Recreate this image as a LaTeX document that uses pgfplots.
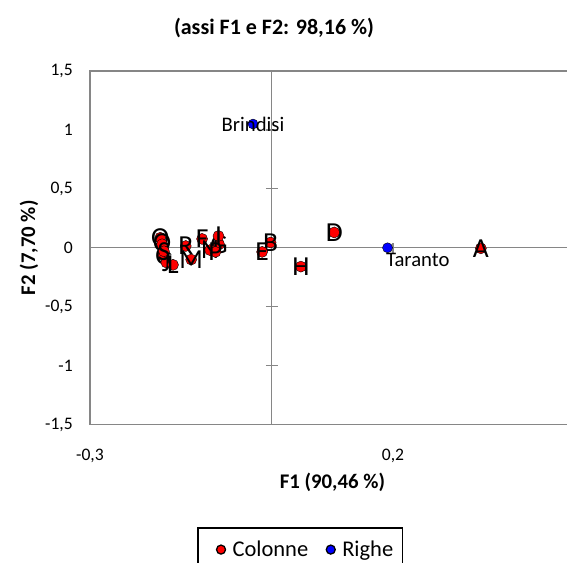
\documentclass[border=0pt]{standalone}
\usepackage{pgfplots}
\pgfplotsset{compat=1.18}
\usepackage{fontspec}
\setmainfont{Carlito}
\definecolor{axgray}{RGB}{134,134,134}
\definecolor{ptred}{RGB}{255,0,0}
\definecolor{ptblue}{RGB}{0,0,255}
\begin{document}
\begin{tikzpicture}
\useasboundingbox (0bp,0bp) rectangle (567bp,-563bp);
\begin{scope}
\clip (0bp,0bp) rectangle (567bp,-563bp);
\node[font=\bfseries\fontsize{22bp}{26bp}\selectfont] at (274bp,-28bp) {(assi F1 e F2: 98,16 \%)};
\begin{axis}[
  at={(90bp,-424.5bp)}, anchor=south west,
  scale only axis, width=484.8bp, height=353.5bp,
  xmin=-0.3, xmax=0.5, ymin=-1.5, ymax=1.5,
  axis line style={axgray, line width=1.3bp},
  xtick={-0.3,0.2}, ytick={-1.5,-1,-0.5,0,0.5,1,1.5},
  major tick length=0pt,
  tick label style={font=\fontsize{17.6bp}{21bp}\selectfont, inner sep=0pt},
  /pgf/number format/use comma, /pgf/number format/assume math mode=true,
  xticklabel shift=24bp, yticklabel shift=17bp,
  xlabel={F1 (90,46 \%)}, ylabel={F2 (7,70 \%)},
  label style={font=\bfseries\fontsize{20.8bp}{25bp}\selectfont},
  xlabel style={at={(axis description cs:0.5,-0.1646)}, anchor=center},
  ylabel style={at={(axis description cs:-0.1258,0.5)}, anchor=center},
  legend columns=2,
  legend style={at={(axis description cs:0.2215,-0.2910)}, anchor=north west,
    draw=black, line width=1.3bp, font=\fontsize{22.5bp}{27bp}\selectfont,
    inner xsep=9.5bp, inner ysep=13bp,
    nodes={inner sep=0pt},
    /tikz/every odd column/.append style={column sep=7bp},
    /tikz/every even column/.append style={column sep=9bp}},
  legend image code/.code={
    \path[draw=none] (-9bp,0bp) -- (9bp,0bp);
    \draw[#1, mark size=4.5bp] plot coordinates {(4.5bp,0bp)};
  },
  nodes near coords, point meta=explicit symbolic,
]
\draw[axgray, line width=1.3bp] (axis cs:0,-1.5) -- (axis cs:0,1.5);
\draw[axgray, line width=1.3bp] (axis cs:-0.3,0) -- (axis cs:0.5,0);
\pgfplotsinvokeforeach{-1,-0.5,0.5,1}{
  \draw[axgray, line width=1.3bp] ([xshift=-6bp]axis cs:0,#1) -- ([xshift=6bp]axis cs:0,#1);
}
\draw[axgray, line width=1.3bp] ([yshift=-5bp]axis cs:0.2,0) -- ([yshift=5bp]axis cs:0.2,0);

\addplot[only marks, mark=*, mark size=5.5bp, mark options={draw=none, fill=ptred},
  every node near coord/.style={anchor=center, black, font=\fontsize{27.5bp}{32bp}\selectfont}]
coordinates {
  (0.345,-0.005) [A]
  (-0.002,0.045) [B]
  (-0.180,-0.065) [C]
  (0.103,0.130) [D]
  (-0.016,-0.035) [E]
  (-0.115,0.075) [F]
  (-0.087,0.030) [G]
  (0.048,-0.160) [H]
  (-0.088,0.100) [I]
  (-0.174,-0.125) [J]
  (-0.163,-0.145) [L]
  (-0.133,-0.100) [M]
  (-0.102,-0.020) [N]
  (-0.184,0.085) [O]
  (-0.093,-0.035) [P]
  (-0.181,0.030) [Q]
  (-0.142,0.015) [R]
  (-0.178,-0.030) [S]
};
\addlegendentry{Colonne}
\addplot[only marks, mark=*, mark size=5bp, mark options={draw=none, fill=ptblue},
  every node near coord/.style={anchor=center, black, font=\fontsize{20.7bp}{24bp}\selectfont}]
coordinates {(-0.031,1.05) [Brindisi]};
\addlegendentry{Righe\hspace{8bp}}
\addplot[only marks, mark=*, mark size=5bp, mark options={draw=none, fill=ptblue}, forget plot,
  every node near coord/.style={anchor=north west, xshift=-5bp, yshift=-2bp, black, font=\fontsize{20.7bp}{24bp}\selectfont}]
coordinates {(0.191,0.0) [Taranto]};
\end{axis}
\end{scope}
\end{tikzpicture}
\end{document}
